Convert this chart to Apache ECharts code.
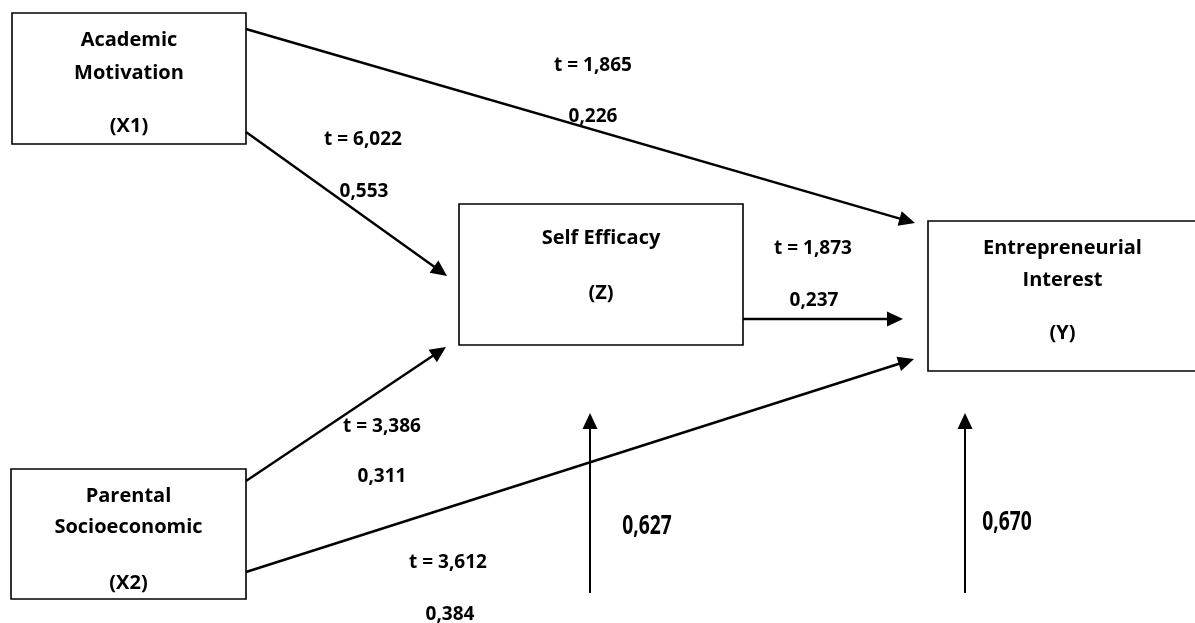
<!DOCTYPE html>
<html>
<head>
<meta charset="utf-8">
<script src="https://cdn.jsdelivr.net/npm/echarts@6/dist/echarts.min.js"></script>
<style>
  html, body { margin: 0; padding: 0; background: #ffffff; }
  #chart { width: 1195px; height: 623px; }
</style>
</head>
<body>
<div id="chart"></div>
<script>
// variabel dan koefisien jalur
var nodeIds = ['X1', 'X2', 'Z', 'Y'];
var nodeTitles = [['Academic', 'Motivation'], ['Parental', 'Socioeconomic'], ['Self Efficacy'], ['Entrepreneurial', 'Interest']];
var pathFrom = ['X1', 'X1', 'X2', 'X2', 'Z'];
var pathTo = ['Z', 'Y', 'Z', 'Y', 'Y'];
var tValues = ['6,022', '1,865', '3,386', '3,612', '1,873'];
var coefValues = ['0,553', '0,226', '0,311', '0,384', '0,237'];
var rSquare = ['0,627', '0,670'];

// layout (pixel space of the hidden grid)
var boxRect = [[12, 13, 246, 144], [11, 469, 246, 599], [459, 204, 743, 345], [928, 221, 1197, 371]];
var boxLineY = [[40, 73, 126], [496, 527, 583], [238, 293], [248, 280, 333]];
var pathCoords = [[246, 132, 447, 276], [246, 29, 915, 223], [246, 481, 446, 347], [246, 572, 914, 359], [743, 319, 903, 319]];
var tPos = [[363, 140], [593, 66], [382, 427], [448, 563], [813, 249]];
var coefPos = [[364, 192], [593, 117], [382, 477], [450, 615], [814, 301]];
var rArrow = [[590, 593, 590, 413], [965, 593, 965, 413]];
var rPos = [[647, 527], [1007, 523]];

var FONT = '"Open Sans", "Noto Sans", sans-serif';

var chart = echarts.init(document.getElementById('chart'));

function arrowItem(lineWidth) {
  return function (params, api) {
    var p1 = api.coord([api.value(0), api.value(1)]);
    var p2 = api.coord([api.value(2), api.value(3)]);
    var dx = p2[0] - p1[0], dy = p2[1] - p1[1];
    var len = Math.sqrt(dx * dx + dy * dy);
    var ux = dx / len, uy = dy / len;
    var hl = 16, hw = 7.5;
    var bx = p2[0] - ux * hl, by = p2[1] - uy * hl;
    return {
      type: 'group',
      children: [
        {
          type: 'line',
          shape: { x1: p1[0], y1: p1[1], x2: bx + ux * 2, y2: by + uy * 2 },
          style: { stroke: '#000', lineWidth: lineWidth }
        },
        {
          type: 'polygon',
          shape: { points: [[p2[0], p2[1]], [bx - uy * hw, by + ux * hw], [bx + uy * hw, by - ux * hw]] },
          style: { fill: '#000' }
        }
      ]
    };
  };
}

var boxData = nodeIds.map(function (id, i) {
  return boxRect[i].concat([i]);
});

var pathData = pathFrom.map(function (f, i) {
  return pathCoords[i];
});

var labelData = [];
tValues.forEach(function (t, i) {
  labelData.push([tPos[i][0], tPos[i][1], 't = ' + t]);
  labelData.push([coefPos[i][0], coefPos[i][1], coefValues[i]]);
});

var rData = rSquare.map(function (r, i) {
  return [rPos[i][0], rPos[i][1], r];
});

var option = {
  animation: false,
  grid: { left: 0, right: 0, top: 0, bottom: 0 },
  xAxis: { type: 'value', min: 0, max: 1195, show: false },
  yAxis: { type: 'value', min: 0, max: 623, inverse: true, show: false },
  series: [
    {
      // kotak variabel
      type: 'custom',
      name: 'boxes',
      data: boxData,
      encode: { x: [0, 2], y: [1, 3] },
      renderItem: function (params, api) {
        var i = api.value(4);
        var a = api.coord([api.value(0), api.value(1)]);
        var b = api.coord([api.value(2), api.value(3)]);
        var cx = (a[0] + b[0]) / 2;
        var lines = nodeTitles[i].concat(['(' + nodeIds[i] + ')']);
        var children = [{
          type: 'rect',
          shape: { x: a[0], y: a[1], width: b[0] - a[0], height: b[1] - a[1] },
          style: { fill: '#fff', stroke: '#000', lineWidth: 1.6 }
        }];
        lines.forEach(function (txt, k) {
          var y = api.coord([0, boxLineY[i][k]])[1];
          children.push({
            type: 'text',
            x: cx, y: y,
            style: { text: txt, font: 'bold 20px ' + FONT, fill: '#000', align: 'center', verticalAlign: 'middle' }
          });
        });
        return { type: 'group', children: children };
      },
      z: 1
    },
    {
      // jalur
      type: 'custom',
      name: 'paths',
      data: pathData,
      encode: { x: [0, 2], y: [1, 3] },
      renderItem: arrowItem(2.4),
      z: 2
    },
    {
      type: 'custom',
      name: 'r2arrows',
      data: rArrow,
      encode: { x: [0, 2], y: [1, 3] },
      renderItem: arrowItem(2),
      z: 2
    },
    {
      type: 'custom',
      name: 'labels',
      data: labelData,
      encode: { x: 0, y: 1 },
      renderItem: function (params, api) {
        var p = api.coord([api.value(0), api.value(1)]);
        return {
          type: 'text',
          x: p[0], y: p[1],
          style: { text: labelData[params.dataIndex][2], font: 'bold 19px ' + FONT, fill: '#000', align: 'center', verticalAlign: 'middle' }
        };
      },
      z: 3
    },
    {
      type: 'custom',
      name: 'r2',
      data: rData,
      encode: { x: 0, y: 1 },
      renderItem: function (params, api) {
        var p = api.coord([api.value(0), api.value(1)]);
        return {
          type: 'text',
          x: p[0], y: p[1],
          scaleX: 0.74,
          style: { text: rData[params.dataIndex][2], font: 'bold 26px ' + FONT, fill: '#000', align: 'center', verticalAlign: 'middle' }
        };
      },
      z: 3
    }
  ]
};

chart.setOption(option);
</script>
</body>
</html>
